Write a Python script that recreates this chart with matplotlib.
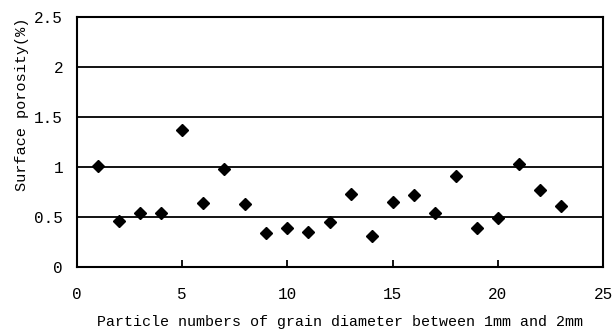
import matplotlib
matplotlib.use("Agg")
import matplotlib.pyplot as plt

particle_number = list(range(1, 24))
surface_porosity = [1.01, 0.46, 0.54, 0.54, 1.37, 0.64, 0.98, 0.63, 0.34, 0.39,
                    0.35, 0.45, 0.73, 0.31, 0.65, 0.72, 0.54, 0.91, 0.39, 0.49,
                    1.03, 0.77, 0.61]
x_ticks = [0, 5, 10, 15, 20, 25]
y_ticks = [0, 0.5, 1, 1.5, 2, 2.5]
y_tick_labels = ["0", "0.5", "1", "1.5", "2", "2.5"]

plt.rcParams['font.family'] = ['Liberation Mono', 'DejaVu Sans']

fig = plt.figure(figsize=(6.16, 3.31), dpi=100)
ax = fig.add_axes([0.125, 0.193, 0.854, 0.756])

for yv in y_ticks[1:]:
    ax.axhline(yv, color='black', lw=1.3, zorder=1)

ax.plot(particle_number, surface_porosity, linestyle='none', marker='D',
        markersize=6.5, color='black', zorder=3)

ax.set_xlim(0, 25)
ax.set_ylim(0, 2.5)
ax.set_xticks(x_ticks)
ax.set_xticklabels([str(v) for v in x_ticks])
ax.set_yticks(y_ticks)
ax.set_yticklabels(y_tick_labels)
ax.tick_params(axis='x', direction='in', length=5, width=1.3, labelsize=11.5, pad=14)
ax.tick_params(axis='y', length=0, labelsize=11.5, pad=10)
for s in ax.spines.values():
    s.set_linewidth(1.5)
    s.set_color('black')

ax.set_xlabel("Particle numbers of grain diameter between 1mm and 2mm", fontsize=10.8, labelpad=10)
fig.text(22 / 616, 1 - 104 / 331, "Surface porosity(%)", rotation=90,
         ha='center', va='center', fontsize=11)

fig.savefig("out.png", dpi=100)
